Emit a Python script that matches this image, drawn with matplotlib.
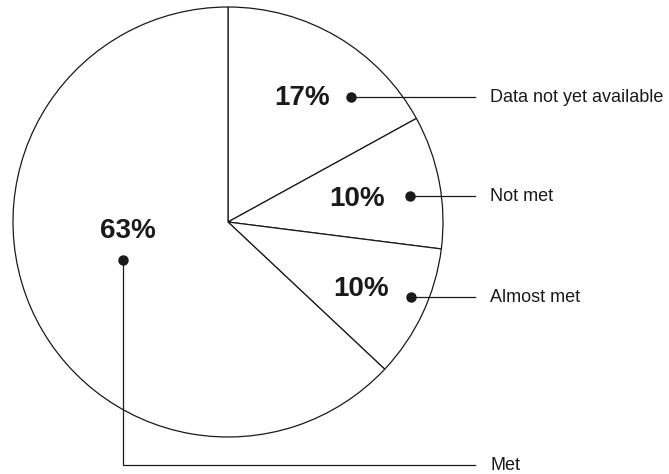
import matplotlib.pyplot as plt

# Share of targets by status, clockwise from 12 o'clock
categories = ["Data not yet available", "Not met", "Almost met", "Met"]
shares = [17, 10, 10, 63]

W, H = 669, 474
plt.rcParams["font.family"] = ["Liberation Sans", "DejaVu Sans"]

fig = plt.figure(figsize=(W / 100, H / 100), dpi=100)
ax = fig.add_axes([0, 0, 1, 1])

# pie centre and radius in pixel units (y measured from the bottom)
cx, cy, r = 228, H - 222, 215
ax.pie(shares, startangle=90, counterclock=False, center=(cx, cy), radius=r,
       wedgeprops=dict(facecolor="white", edgecolor="#1a1a1a", linewidth=0.9))

# where each percentage, dot and category label sits (pixels from top-left)
pct_pos = [(302, 98), (357, 199), (361, 289), (128, 231)]
dot_pos = [(351, 97), (410, 196), (411, 297), (123, 260)]
label_y = [97, 196, 297, 465]
line_end = 475
label_x = 490

for cat, val, (px, py), (dx, dy), ly in zip(categories, shares, pct_pos, dot_pos, label_y):
    ax.text(px, H - py, f"{val}%", ha="center", va="center",
            fontsize=20, fontweight="bold", color="#1a1a1a")
    ax.plot([dx], [H - dy], "o", color="#1a1a1a", markersize=6.5, zorder=5)
    if dy == ly:
        ax.plot([dx, line_end], [H - dy, H - ly], color="#1a1a1a", lw=0.9, zorder=4)
    else:
        ax.plot([dx, dx, line_end], [H - dy, H - ly, H - ly],
                color="#1a1a1a", lw=0.9, zorder=4)
    ax.text(label_x, H - ly, cat, ha="left", va="center",
            fontsize=13, color="#1a1a1a")

ax.set_xlim(0, W)
ax.set_ylim(0, H)
ax.axis("off")

fig.savefig("out.png", dpi=100)
